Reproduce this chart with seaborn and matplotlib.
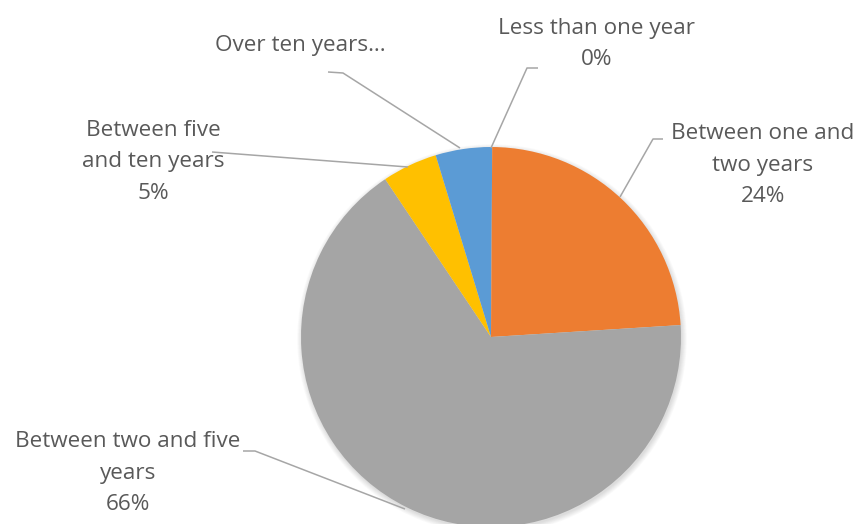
import matplotlib
matplotlib.use("Agg")
import matplotlib.pyplot as plt
from matplotlib.patches import Circle
import seaborn as sns

categories = ["Less than one year", "Between one and two years",
              "Between two and five years", "Between five and ten years",
              "Over ten years"]
values = [0.1, 23.9, 66.6, 4.7, 4.7]
label_texts = ["Less than one year\n0%", "Between one and\ntwo years\n24%",
               "Between two and five\nyears\n66%", "Between five\nand ten years\n5%",
               "Over ten years…"]
colors = ["#5B9BD5", "#ED7D31", "#A5A5A5", "#FFC000", "#5B9BD5"]

sns.set_theme(style="white")
plt.rcParams['font.family'] = ['Open Sans', 'DejaVu Sans']

W, H = 860, 524
fig = plt.figure(figsize=(W / 100, H / 100), dpi=100)
ax = fig.add_axes([0, 0, 1, 1])

cx, cy, r = 491, H - 337, 190
# soft shadow
for i in range(7):
    ax.add_patch(Circle((cx + 1, cy - 2), r + i * 0.8, facecolor="black",
                        edgecolor="none", alpha=0.018, zorder=0))
ax.pie(values, colors=colors, startangle=90, counterclock=False,
       center=(cx, cy), radius=r, frame=True,
       wedgeprops=dict(linewidth=0, zorder=1))
ax.set_xlim(0, W)
ax.set_ylim(0, H)
ax.axis("off")

txt_color = "#595959"
line_color = "#A6A6A6"
# label positions (pixel, top-origin) and leader lines
label_pos = [(597, 44), (763, 165), (128, 473), (153, 162), (300, 45)]
leaders = [
    [(538, 68), (527, 68), (491, 148)],
    [(663, 139), (653, 139), (620, 197)],
    [(243, 451), (255, 451), (405, 509)],
    [(212, 152), (408, 167)],
    [(328, 72), (343, 73), (460, 148)],
]
for txt, (x, y) in zip(label_texts, label_pos):
    ax.text(x, H - y, txt, ha="center", va="center", fontsize=16.2,
            color=txt_color, linespacing=1.63)
for pts in leaders:
    xs = [p[0] for p in pts]
    ys = [H - p[1] for p in pts]
    ax.plot(xs, ys, color=line_color, linewidth=1.1, solid_capstyle="butt")

fig.savefig("out.png", dpi=100)
